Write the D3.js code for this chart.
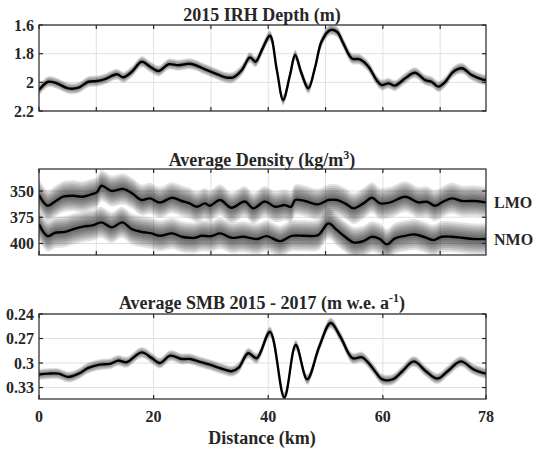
<!DOCTYPE html>
<html>
<head>
<meta charset="utf-8">
<script src="https://cdn.jsdelivr.net/npm/d3@7"></script>
<style>
  body { margin: 0; background: #fff; }
</style>
</head>
<body>
<svg id="chart" width="534" height="449"></svg>
<script>
// distance along profile (km) and values
const irhDist = [0, 1.6, 3.1, 5.1, 6.9, 8.6, 10.1, 11.5, 13.6, 14.7, 16.2, 17.9, 19.4, 20.9, 22.6, 24.3, 26.2, 27.2, 29.0, 30.7, 32.5, 33.9, 35.4, 36.8, 37.8, 38.9, 40.3, 41.5, 42.6, 43.8, 44.7, 45.8, 47.0, 48.2, 49.3, 50.8, 52.0, 53.1, 54.6, 56.0, 57.5, 58.9, 59.8, 61.0, 62.1, 63.9, 65.6, 67.4, 68.5, 69.7, 70.9, 72.3, 73.8, 75.5, 77.3, 78];
const irhDepth = [2.054, 1.996, 2.007, 2.042, 2.037, 1.996, 1.991, 1.977, 1.944, 1.965, 1.926, 1.856, 1.891, 1.921, 1.874, 1.881, 1.870, 1.879, 1.909, 1.937, 1.965, 1.965, 1.914, 1.826, 1.856, 1.774, 1.675, 1.914, 2.123, 1.949, 1.809, 1.937, 2.042, 1.891, 1.716, 1.635, 1.647, 1.728, 1.833, 1.840, 1.891, 1.984, 2.019, 2.007, 2.023, 1.972, 1.933, 1.984, 1.996, 2.030, 1.996, 1.926, 1.902, 1.949, 1.979, 1.984];

const lmoDist = [0, 1.5, 2.8, 4.2, 6.0, 7.5, 9.2, 10.1, 10.9, 12.7, 14.7, 16.2, 17.9, 19.4, 21.1, 23.2, 24.9, 26.2, 27.5, 29.0, 29.8, 31.6, 33.6, 35.9, 37.4, 39.4, 41.2, 42.9, 44.0, 44.7, 46.4, 48.7, 50.5, 52.0, 53.4, 54.9, 56.6, 58.1, 59.5, 61.3, 63.9, 66.2, 67.7, 69.1, 70.3, 72.0, 73.8, 76.1, 78];
const lmoDensity = [353.8, 364, 360, 355.4, 354.5, 355.4, 353, 351.3, 345, 350, 348, 352, 358.6, 357, 361, 356.4, 359.5, 361.5, 365, 361.8, 364, 358.6, 366, 360, 366.5, 360, 365, 363.4, 365, 358.6, 359.5, 362.7, 358.6, 358.6, 361.8, 366.5, 361.8, 356.4, 361.8, 360.8, 355.4, 360.8, 360.2, 364, 360.8, 357, 359.5, 359.5, 360.8];

const nmoDist = [0, 1.5, 2.8, 4.5, 6.0, 7.7, 9.5, 10.9, 12.7, 14.5, 16.2, 17.9, 19.7, 21.1, 23.2, 24.9, 26.2, 27.2, 28.4, 30.1, 31.6, 33.6, 35.6, 38.0, 39.7, 42.1, 44.1, 46.4, 48.7, 50.5, 52.0, 53.4, 54.9, 56.6, 58.1, 59.5, 60.7, 62.1, 63.9, 65.6, 67.1, 68.8, 70.3, 72.0, 73.8, 75.8, 78];
const nmoDensity = [381.8, 393, 389.8, 388.9, 386.3, 384, 382.5, 379.9, 384.7, 379.9, 386.3, 388.9, 390.4, 392.7, 390.4, 393.6, 394.6, 394.6, 392.7, 393, 390.4, 394.6, 393.6, 395.8, 393, 397.8, 392.7, 392.7, 392, 380.9, 387.3, 393.6, 399, 397.8, 393.6, 395.8, 400.9, 395.2, 392.7, 391.4, 393.6, 396.8, 393.6, 393.6, 394.6, 395.8, 395.8];

const smbDist = [0, 1.6, 3.4, 5.1, 6.9, 8.6, 10.6, 12.4, 13.8, 15.3, 17.9, 19.7, 21.1, 22.9, 24.9, 26.4, 27.8, 29.8, 31.9, 33.6, 34.8, 36.5, 38.0, 40.3, 42.8, 44.8, 46.8, 48.9, 50.9, 52.6, 54.7, 56.4, 58.2, 59.9, 61.7, 63.4, 65.4, 67.5, 69.5, 71.3, 73.6, 75.9, 78];
const smbRate = [0.314, 0.313, 0.313, 0.317, 0.313, 0.306, 0.302, 0.301, 0.297, 0.299, 0.287, 0.294, 0.300, 0.291, 0.295, 0.295, 0.298, 0.302, 0.307, 0.310, 0.306, 0.288, 0.294, 0.262, 0.342, 0.278, 0.320, 0.280, 0.251, 0.268, 0.294, 0.293, 0.306, 0.320, 0.320, 0.310, 0.298, 0.310, 0.319, 0.310, 0.298, 0.308, 0.313];

const xTicksAll = [0, 10, 20, 30, 40, 50, 60, 70];
const xTicksBottom = [0, 20, 40, 60, 78];
const irhTicks = [1.6, 1.8, 2, 2.2];
const densTicks = [350, 375, 400];
const smbTicks = [0.24, 0.27, 0.3, 0.33];

const svg = d3.select('#chart');
const defs = svg.append('defs');
const left = 39, right = 486;
const x = d3.scaleLinear().domain([0, 78]).range([left, right]);

const zip = (ds, vs) => ds.map((d, i) => ({ d: d, v: vs[i] }));

const addText = (sel, size) => sel
    .style('font-family', "'Liberation Serif'")
    .style('font-weight', 'bold')
    .style('font-size', size + 'px')
    .attr('fill', '#262626');

let panelId = 0;
const drawPanel = (cfg) => {
    const y = d3.scaleLinear().domain(cfg.domain).range([cfg.top, cfg.bottom]);
    const g = svg.append('g');
    const clipId = 'clip' + (panelId++);
    defs.append('clipPath').attr('id', clipId)
        .append('rect')
        .attr('x', left).attr('y', cfg.top)
        .attr('width', right - left).attr('height', cfg.bottom - cfg.top);

    // grid
    g.selectAll('.vg').data(cfg.xTicks.filter(t => t > 0 && t < 78)).enter()
        .append('line')
        .attr('x1', d => x(d)).attr('x2', d => x(d))
        .attr('y1', cfg.top).attr('y2', cfg.bottom)
        .attr('stroke', '#e0e0e0').attr('stroke-width', 1);
    g.selectAll('.hg').data(cfg.yTicks).enter()
        .append('line')
        .attr('x1', left).attr('x2', right)
        .attr('y1', d => y(d)).attr('y2', d => y(d))
        .attr('stroke', '#e0e0e0').attr('stroke-width', 1);

    const curve = d3.curveCatmullRom.alpha(0.5);
    const line = d3.line()
        .x(p => x(p.d))
        .y(p => y(p.v))
        .curve(curve);

    const plot = g.append('g').attr('clip-path', `url(#${clipId})`);
    cfg.series.forEach(s => {
        cfg.bands.forEach(o => {
            const area = d3.area()
                .x(p => x(p.d))
                .y0(p => y(p.v) - o)
                .y1(p => y(p.v) + o)
                .curve(curve);
            plot.append('path')
                .attr('d', area(s))
                .attr('fill', '#000')
                .attr('fill-opacity', cfg.bandOpacity);
        });
        plot.append('path')
            .attr('d', line(s))
            .attr('fill', 'none')
            .attr('stroke', '#000')
            .attr('stroke-width', 2.4)
            .attr('stroke-linejoin', 'round');
    });

    // box + inward ticks
    const ax = svg.append('g').attr('stroke', '#262626').attr('stroke-width', 1.2);
    ax.append('rect')
        .attr('x', left).attr('y', cfg.top)
        .attr('width', right - left).attr('height', cfg.bottom - cfg.top)
        .attr('fill', 'none');
    cfg.xTicks.forEach(t => {
        ax.append('line').attr('x1', x(t)).attr('x2', x(t)).attr('y1', cfg.bottom).attr('y2', cfg.bottom - 4);
        ax.append('line').attr('x1', x(t)).attr('x2', x(t)).attr('y1', cfg.top).attr('y2', cfg.top + 4);
    });
    cfg.yTicks.forEach(t => {
        ax.append('line').attr('x1', left).attr('x2', left + 4).attr('y1', y(t)).attr('y2', y(t));
        ax.append('line').attr('x1', right).attr('x2', right - 4).attr('y1', y(t)).attr('y2', y(t));
    });

    addText(svg.append('g').selectAll('text').data(cfg.yTicks).enter()
        .append('text')
        .attr('x', left - 5)
        .attr('y', d => y(d))
        .attr('dy', '0.35em')
        .attr('text-anchor', 'end')
        .text(d => cfg.fmt(d)), 16);

    if (cfg.xLabels) {
        addText(svg.append('g').selectAll('text').data(cfg.xTicks).enter()
            .append('text')
            .attr('x', d => x(d))
            .attr('y', cfg.bottom + 23)
            .attr('text-anchor', 'middle')
            .text(d => d), 16);
    }
    return y;
};

drawPanel({
    top: 25, bottom: 111, domain: [1.6, 2.2],
    xTicks: xTicksAll, yTicks: irhTicks, fmt: d => d,
    series: [zip(irhDist, irhDepth)],
    bands: [5.5, 4.5, 3.5, 2.5], bandOpacity: 0.13
});

const yDens = drawPanel({
    top: 169, bottom: 255, domain: [329, 411],
    xTicks: xTicksAll, yTicks: densTicks, fmt: d => d,
    series: [zip(lmoDist, lmoDensity), zip(nmoDist, nmoDensity)],
    bands: [15.5, 13.5, 11.5, 9.5, 7.5, 5.5, 3.5], bandOpacity: 0.11
});

drawPanel({
    top: 314, bottom: 399, domain: [0.24, 0.344],
    xTicks: xTicksBottom, yTicks: smbTicks, fmt: d => d, xLabels: true,
    series: [zip(smbDist, smbRate)],
    bands: [5.5, 4.5, 3.5, 2.5], bandOpacity: 0.13
});

// titles
const title = (yPos, parts) => {
    const t = addText(svg.append('text')
        .attr('x', 262).attr('y', yPos)
        .attr('text-anchor', 'middle'), 18);
    parts.forEach(p => {
        const ts = t.append('tspan').text(p.s);
        if (p.sup) ts.attr('dy', -7).style('font-size', '12px');
        else if (p.after) ts.attr('dy', 7);
    });
};
title(21, [{ s: '2015 IRH Depth (m)' }]);
title(166, [{ s: 'Average Density (kg/m' }, { s: '3', sup: true }, { s: ')', after: true }]);
title(309, [{ s: 'Average SMB 2015 - 2017 (m w.e. a' }, { s: '-1', sup: true }, { s: ')', after: true }]);

addText(svg.append('text')
    .attr('x', 262).attr('y', 444)
    .attr('text-anchor', 'middle')
    .text('Distance (km)'), 18);

// series labels next to density panel
[['LMO', lmoDensity[lmoDensity.length - 1]], ['NMO', nmoDensity[nmoDensity.length - 1]]].forEach(([name, v]) => {
    addText(svg.append('text')
        .attr('x', 494).attr('y', yDens(v))
        .attr('dy', '0.35em')
        .text(name), 16);
});
</script>
</body>
</html>
